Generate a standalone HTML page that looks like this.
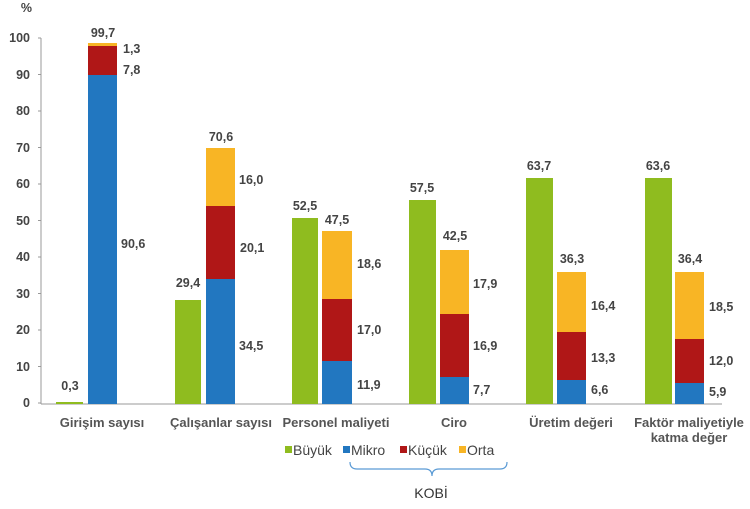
<!DOCTYPE html><html><head><style>body{margin:0;background:#fff}svg text{font-family:"Liberation Sans",sans-serif;font-size:12.5px;font-weight:bold;fill:#444}</style></head><body>
<svg width="750" height="504" xmlns="http://www.w3.org/2000/svg">
<g text-anchor="end">
<text x="32" y="12" font-size="13">%</text>
<text x="30" y="42">100</text><text x="30" y="79">90</text><text x="30" y="115">80</text><text x="30" y="152">70</text><text x="30" y="188">60</text><text x="30" y="225">50</text><text x="30" y="261">40</text><text x="30" y="298">30</text><text x="30" y="334">20</text><text x="30" y="371">10</text><text x="30" y="407">0</text>
</g>
<g stroke="#999" stroke-width="1">
<line x1="41" y1="38" x2="41" y2="404"/><line x1="41" y1="404" x2="722" y2="404"/>
<line x1="38" y1="38" x2="41" y2="38"/><line x1="38" y1="74.5" x2="41" y2="74.5"/><line x1="38" y1="111" x2="41" y2="111"/><line x1="38" y1="147.5" x2="41" y2="147.5"/><line x1="38" y1="184" x2="41" y2="184"/><line x1="38" y1="220.5" x2="41" y2="220.5"/><line x1="38" y1="257" x2="41" y2="257"/><line x1="38" y1="293.5" x2="41" y2="293.5"/><line x1="38" y1="330" x2="41" y2="330"/><line x1="38" y1="366.5" x2="41" y2="366.5"/><line x1="38" y1="403" x2="41" y2="403"/>
</g>
<g>
<rect x="56" y="402" width="27" height="2" fill="#8fbc1f"/>
<rect x="88" y="43" width="29" height="3" fill="#f8b525"/><rect x="88" y="46" width="29" height="29" fill="#b01717"/><rect x="88" y="75" width="29" height="329" fill="#2277c0"/>
<rect x="175" y="300" width="26" height="104" fill="#8fbc1f"/>
<rect x="206" y="148" width="29" height="58" fill="#f8b525"/><rect x="206" y="206" width="29" height="73" fill="#b01717"/><rect x="206" y="279" width="29" height="125" fill="#2277c0"/>
<rect x="292" y="218" width="26" height="186" fill="#8fbc1f"/>
<rect x="322" y="231" width="30" height="68" fill="#f8b525"/><rect x="322" y="299" width="30" height="62" fill="#b01717"/><rect x="322" y="361" width="30" height="43" fill="#2277c0"/>
<rect x="409" y="200" width="27" height="204" fill="#8fbc1f"/>
<rect x="440" y="250" width="29" height="64" fill="#f8b525"/><rect x="440" y="314" width="29" height="63" fill="#b01717"/><rect x="440" y="377" width="29" height="27" fill="#2277c0"/>
<rect x="526" y="178" width="27" height="226" fill="#8fbc1f"/>
<rect x="557" y="272" width="29" height="60" fill="#f8b525"/><rect x="557" y="332" width="29" height="48" fill="#b01717"/><rect x="557" y="380" width="29" height="24" fill="#2277c0"/>
<rect x="645" y="178" width="27" height="226" fill="#8fbc1f"/>
<rect x="675" y="272" width="29" height="67" fill="#f8b525"/><rect x="675" y="339" width="29" height="44" fill="#b01717"/><rect x="675" y="383" width="29" height="21" fill="#2277c0"/>
</g>
<g text-anchor="middle">
<text x="70" y="390">0,3</text><text x="103" y="37" fill="#000">99,7</text>
<text x="188" y="287">29,4</text><text x="221" y="141" fill="#000">70,6</text>
<text x="305" y="210">52,5</text><text x="337" y="224" fill="#000">47,5</text>
<text x="422" y="192">57,5</text><text x="455" y="240" fill="#000">42,5</text>
<text x="539" y="170">63,7</text><text x="572" y="263" fill="#000">36,3</text>
<text x="658" y="170">63,6</text><text x="690" y="263" fill="#000">36,4</text>
</g>
<g>
<text x="123" y="53">1,3</text><text x="123" y="74">7,8</text><text x="121" y="248">90,6</text>
<text x="239" y="184">16,0</text><text x="240" y="252">20,1</text><text x="239" y="350">34,5</text>
<text x="357" y="268">18,6</text><text x="357" y="334">17,0</text><text x="357" y="389">11,9</text>
<text x="473" y="288">17,9</text><text x="473" y="350">16,9</text><text x="473" y="394">7,7</text>
<text x="591" y="310">16,4</text><text x="591" y="362">13,3</text><text x="591" y="394">6,6</text>
<text x="709" y="311">18,5</text><text x="709" y="365">12,0</text><text x="709" y="396">5,9</text>
</g>
<g text-anchor="middle" style="font-size:13px">
<text x="102" y="427" style="font-size:13px;fill:#555">Girişim sayısı</text><text x="221" y="427" style="font-size:13px;fill:#555">Çalışanlar sayısı</text><text x="336" y="427" style="font-size:13px;fill:#555">Personel maliyeti</text><text x="454" y="427" style="font-size:13px;fill:#555">Ciro</text><text x="571" y="427" style="font-size:13px;fill:#555">Üretim değeri</text><text x="689" y="427" style="font-size:13px;fill:#555">Faktör maliyetiyle</text><text x="689" y="442" style="font-size:13px;fill:#555">katma değer</text>
</g>
<g>
<rect x="285" y="446" width="7" height="7" fill="#8fbc1f"/><text x="293" y="455" style="font-weight:normal;font-size:14px">Büyük</text>
<rect x="343" y="446" width="7" height="7" fill="#2277c0"/><text x="351" y="455" style="font-weight:normal;font-size:14px">Mikro</text>
<rect x="400" y="446" width="7" height="7" fill="#b01717"/><text x="408" y="455" style="font-weight:normal;font-size:14px">Küçük</text>
<rect x="459" y="446" width="7" height="7" fill="#f8b525"/><text x="467" y="455" style="font-weight:normal;font-size:14px">Orta</text>
<path d="M350 462 Q350 469 357 469 L425 469 Q432 469 432 476 Q432 469 439 469 L500 469 Q507 469 507 462" fill="none" stroke="#5b9bd5" stroke-width="1.2"/>
<text x="431" y="498" text-anchor="middle" style="font-weight:normal;font-size:14px;fill:#333">KOBİ</text>
</g>
</svg></body></html>
